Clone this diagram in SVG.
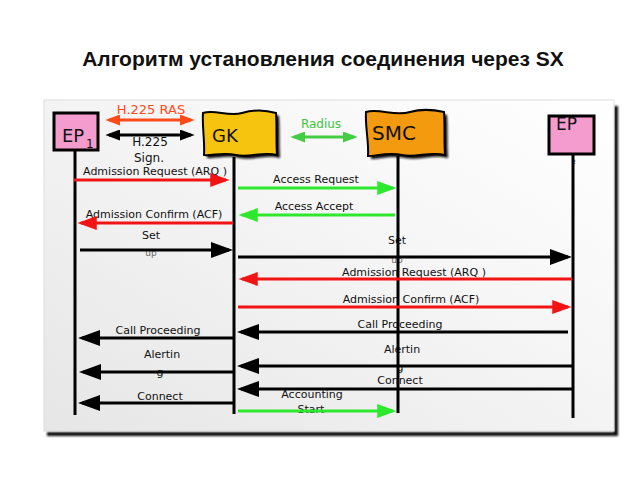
<svg xmlns="http://www.w3.org/2000/svg" width="640" height="480" viewBox="0 0 640 480">
<defs>
<linearGradient id="panel" x1="0" y1="1" x2="1" y2="0">
<stop offset="0" stop-color="#e6e6e6"/>
<stop offset="0.6" stop-color="#f6f6f6"/>
<stop offset="1" stop-color="#ffffff"/>
</linearGradient>
<filter id="blur" x="-10%" y="-10%" width="120%" height="120%"><feGaussianBlur stdDeviation="1"/></filter>
<marker id="hk" viewBox="0 0 22 16" markerUnits="userSpaceOnUse" markerWidth="22" markerHeight="16" refX="18" refY="8" orient="auto-start-reverse"><path d="M0,0 L22,8 L0,16 Z" fill="#000"/></marker>
<marker id="hr" viewBox="0 0 22 16" markerUnits="userSpaceOnUse" markerWidth="22" markerHeight="14" refX="18" refY="8" orient="auto-start-reverse"><path d="M0,0 L22,8 L0,16 Z" fill="#f21414"/></marker>
<marker id="hg" viewBox="0 0 22 16" markerUnits="userSpaceOnUse" markerWidth="22" markerHeight="14" refX="18" refY="8" orient="auto-start-reverse"><path d="M0,0 L22,8 L0,16 Z" fill="#2ee82e"/></marker>
<marker id="sk" viewBox="0 0 16 12" markerUnits="userSpaceOnUse" markerWidth="15" markerHeight="11" refX="12" refY="6" orient="auto-start-reverse"><path d="M0,0 L16,6 L0,12 Z" fill="#000"/></marker>
<marker id="so" viewBox="0 0 16 12" markerUnits="userSpaceOnUse" markerWidth="15" markerHeight="11" refX="12" refY="6" orient="auto-start-reverse"><path d="M0,0 L16,6 L0,12 Z" fill="#ff4a1a"/></marker>
<marker id="sg" viewBox="0 0 16 12" markerUnits="userSpaceOnUse" markerWidth="15" markerHeight="11" refX="12" refY="6" orient="auto-start-reverse"><path d="M0,0 L16,6 L0,12 Z" fill="#44cc44"/></marker>
</defs>
<style>
.t{font-family:"DejaVu Sans",sans-serif;font-size:11px;fill:#111;text-anchor:middle}
.sm{font-family:"DejaVu Sans",sans-serif;font-size:9px;fill:#666;text-anchor:middle}
.big{font-family:"DejaVu Sans",sans-serif;fill:#111}
.ln{stroke-width:3;fill:none}
.k{stroke:#000}
.r{stroke:#f21414}
.g{stroke:#2ee82e}
.life{stroke:#000;stroke-width:3}
.box{stroke:#000;stroke-width:3;fill:#f59ccf}
</style>
<rect width="640" height="480" fill="#fff"/>
<text x="323" y="66" style="font-family:'Liberation Sans',Arial,sans-serif;font-size:21px;font-weight:bold;fill:#111" text-anchor="middle">Алгоритм установления соединения через SX</text>

<g id="frame">
<path d="M614,106 L618,106 L618,436 L47,436 L47,432 L614,432 Z" fill="#111" filter="url(#blur)"/>
<rect x="44" y="100" width="570" height="331" fill="url(#panel)" stroke="#ddd" stroke-width="1"/>
</g>

<g id="labels">
<text x="151" y="114" class="big" style="font-size:13px;fill:#ff4a1a" text-anchor="middle">H.225 RAS</text>
<text x="150" y="146" class="t" style="font-size:12px">H.225</text>
<text x="149" y="162" class="t" style="font-size:12px">Sign.</text>
<text x="321" y="128" class="t" style="font-size:12px;fill:#3cc43c">Radius</text>
<text x="155" y="175" class="t">Admission Request (ARQ )</text>
<text x="316" y="183" class="t">Access Request</text>
<text x="314" y="210" class="t">Access Accept</text>
<text x="154" y="218" class="t">Admission Confirm (ACF)</text>
<text x="151" y="239" class="t">Set</text>
<text x="151" y="256" class="sm">up</text>
<text x="397" y="244" class="t">Set</text>
<text x="397" y="263" class="sm">up</text>
<text x="414" y="276" class="t">Admission Request (ARQ )</text>
<text x="411" y="303" class="t">Admission Confirm (ACF)</text>
<text x="400" y="328" class="t">Call Proceeding</text>
<text x="158" y="334" class="t">Call Proceeding</text>
<text x="402" y="353" class="t">Alertin</text>
<text x="400" y="371" class="t">g</text>
<text x="162" y="358" class="t">Alertin</text>
<text x="160" y="376" class="t">g</text>
<text x="400" y="384" class="t">Connect</text>
<text x="160" y="400" class="t">Connect</text>
<text x="312" y="398" class="t">Accounting</text>
<text x="311" y="413" class="t">Start</text>
</g>

<g id="EP1">
<rect x="54" y="113" width="44" height="37" class="box"/>
<text x="62" y="142" class="big" style="font-size:18px">EP</text>
<text x="86" y="148" class="big" style="font-size:12px">1</text>
<line x1="75" y1="150" x2="75" y2="415" class="life"/>
</g>
<g id="GK">
<path d="M206,116 C218,112 231,120 245,116 C258,112 269,113 279,116 C280,130 279,144 280,158 C266,154 253,161 239,158 C226,155 215,159 207,158 C208,144 205,130 206,116 Z" fill="#111" filter="url(#blur)"/>
<path d="M203,113 C215,109 228,117 242,113 C255,109 266,110 276,113 C277,127 276,141 277,155 C263,151 250,158 236,155 C223,152 212,156 204,155 C205,141 202,127 203,113 Z" fill="#f6c40e" stroke="#000" stroke-width="2"/>
<text x="212" y="142" class="big" style="font-size:18px">GK</text>
<line x1="234" y1="157" x2="234" y2="414" class="life"/>
</g>
<g id="SMC">
<path d="M369,115 C383,111 398,120 413,115 C427,111 438,113 447,115 C448,130 447,144 448,158 C433,154 419,161 405,158 C391,155 379,159 371,159 C372,144 368,130 369,115 Z" fill="#111" filter="url(#blur)"/>
<path d="M366,112 C380,108 395,117 410,112 C424,108 435,110 444,112 C445,127 444,141 445,155 C430,151 416,158 402,155 C388,152 376,156 368,156 C369,141 365,127 366,112 Z" fill="#f39a0f" stroke="#000" stroke-width="2"/>
<text x="372" y="140" class="big" style="font-size:20px">SMC</text>
<line x1="398" y1="156" x2="398" y2="413" class="life"/>
</g>
<g id="EP2">
<rect x="549" y="116" width="45" height="38" class="box"/>
<text x="556" y="130" class="big" style="font-size:17px">EP</text>
<text x="572" y="164" class="big" style="font-size:6px">2</text>
<line x1="573" y1="154" x2="573" y2="418" class="life"/>
</g>

<g id="connectors">
<line x1="109" y1="120" x2="191" y2="120" class="ln" stroke="#ff4a1a" marker-start="url(#so)" marker-end="url(#so)"/>
<line x1="109" y1="135" x2="191" y2="135" class="ln k" marker-start="url(#sk)" marker-end="url(#sk)"/>
<line x1="294" y1="137" x2="354" y2="137" class="ln" stroke="#44cc44" marker-start="url(#sg)" marker-end="url(#sg)"/>
<line x1="74" y1="180" x2="226" y2="180" class="ln r" marker-end="url(#hr)"/>
<line x1="238" y1="188" x2="393" y2="188" class="ln g" marker-end="url(#hg)"/>
<line x1="395" y1="215" x2="242" y2="215" class="ln g" marker-end="url(#hg)"/>
<line x1="233" y1="223" x2="81" y2="223" class="ln r" marker-end="url(#hr)"/>
<line x1="80" y1="250" x2="229" y2="250" class="ln k" marker-end="url(#hk)"/>
<line x1="238" y1="257" x2="568" y2="257" class="ln k" marker-end="url(#hk)"/>
<line x1="572" y1="279" x2="242" y2="279" class="ln r" marker-end="url(#hr)"/>
<line x1="238" y1="307" x2="568" y2="307" class="ln r" marker-end="url(#hr)"/>
<line x1="568" y1="332" x2="241" y2="332" class="ln k" marker-end="url(#hk)"/>
<line x1="233" y1="338" x2="82" y2="338" class="ln k" marker-end="url(#hk)"/>
<line x1="572" y1="366" x2="241" y2="366" class="ln k" marker-end="url(#hk)"/>
<line x1="233" y1="372" x2="83" y2="372" class="ln k" marker-end="url(#hk)"/>
<line x1="572" y1="389" x2="241" y2="389" class="ln k" marker-end="url(#hk)"/>
<line x1="233" y1="403" x2="82" y2="403" class="ln k" marker-end="url(#hk)"/>
<line x1="238" y1="411" x2="393" y2="411" class="ln g" marker-end="url(#hg)"/>
</g>
</svg>
